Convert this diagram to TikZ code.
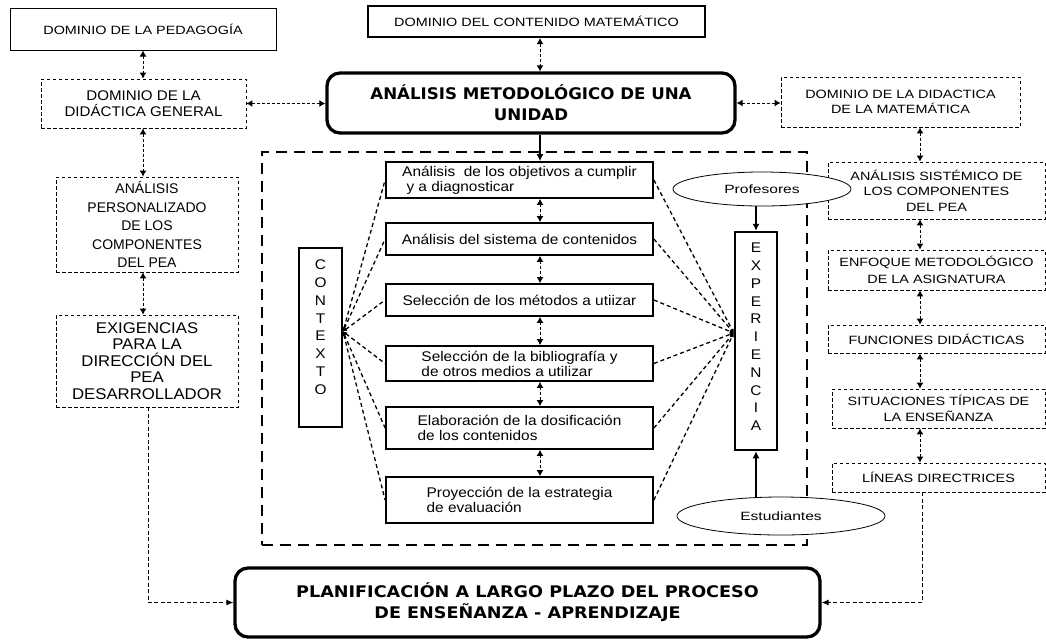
\documentclass[tikz,border=0pt]{standalone}
\usepackage{fontspec}
\usetikzlibrary{arrows.meta,calc,shapes.geometric}
\newfontfamily\fR[FakeStretch=1.2]{Liberation Sans}
\newfontfamily\fL[FakeStretch=1.08]{Liberation Sans}
\newfontfamily\fP[FakeStretch=1.0]{Liberation Sans}
\newfontfamily\fI[FakeStretch=1.1]{Liberation Sans}
\newfontfamily\fE[FakeStretch=1.3]{Liberation Sans}
\newfontfamily\fT[FakeStretch=1.04]{DejaVu Sans}
\newfontfamily\fQ[FakeStretch=1.1]{DejaVu Sans}
\begin{document}
\begin{tikzpicture}[x=1pt,y=-1pt]
\useasboundingbox[fill=white] (0,0) rectangle (1046,641);
\tikzset{
  dbox/.style={draw, line width=0.9pt, dash pattern=on 3.5pt off 2.5pt, inner sep=0pt, align=center},
  capsR/.style={font=\fR\fontsize{12}{15.5}\selectfont},
  capsL/.style={font=\fL\fontsize{14}{16.5}\selectfont},
  sbox/.style={draw, line width=1.8pt, inner sep=0pt, align=left, minimum width=267pt, font=\fI\fontsize{14}{15}\selectfont},
  bigbox/.style={draw, line width=3.3pt, rounded corners=13pt, inner sep=0pt, align=center},
  ell/.style={draw, ellipse, fill=white, line width=0.8pt, inner sep=0pt, font=\fE\fontsize{12}{14}\selectfont},
  vbox/.style={draw, line width=2pt, inner sep=0pt, font=\fI\fontsize{14}{17.8}\selectfont},
  lnk/.style={line width=1pt, dash pattern=on 3pt off 2pt, {Latex[length=6pt,width=7pt]}-{Latex[length=6pt,width=7pt]}},
  lnkone/.style={line width=1pt, dash pattern=on 4pt off 2.5pt, -{Latex[length=7pt,width=6pt]}},
  solidarr/.style={line width=1.2pt, -{Latex[length=7pt,width=7pt]}},
  fan/.style={line width=1.3pt, dash pattern=on 4pt off 3pt},
}
% dashed region
\node[draw, line width=2.5pt, dash pattern=on 11pt off 7pt, inner sep=0pt,
      minimum width=545pt, minimum height=393pt] (reg) at (534.5,348.5) {};

% column helpers
\coordinate (lc) at (143,0);
\coordinate (mc) at (540,0);
\coordinate (rc) at (920,0);

% top
\node[draw, line width=1pt, inner sep=0pt, minimum width=266pt, minimum height=42pt, capsR] (ped) at (143,29) {DOMINIO DE LA PEDAGOGÍA};
\node[draw, line width=2.2pt, inner sep=0pt, minimum width=337pt, minimum height=31pt, capsR] (cont) at (536.5,21.5) {DOMINIO DEL CONTENIDO MATEMÁTICO};
\node[bigbox, minimum width=408pt, minimum height=60pt, font=\fT\bfseries\fontsize{16}{21}\selectfont] (met) at (531,103) {ANÁLISIS METODOLÓGICO DE UNA\\UNIDAD};

% left column
\node[dbox, capsL, minimum width=205pt, minimum height=49pt] (gen) at (143.5,103.5) {DOMINIO DE LA\\DIDÁCTICA GENERAL};
\node[dbox, font=\fP\fontsize{14}{18.5}\selectfont, minimum width=182pt, minimum height=95pt] (pers) at (147,224.5) {ANÁLISIS\\PERSONALIZADO\\DE LOS\\COMPONENTES\\DEL PEA};
\node[dbox, font=\fL\fontsize{15.5}{16.5}\selectfont, minimum width=182pt, minimum height=92pt] (exig) at (147,361) {EXIGENCIAS\\PARA LA\\DIRECCIÓN DEL\\PEA\\DESARROLLADOR};

% right column
\node[dbox, capsR, minimum width=239pt, minimum height=50pt] (dmat) at (900.5,102) {DOMINIO DE LA DIDACTICA\\DE LA MATEMÁTICA};
\node[dbox, capsR, minimum width=217pt, minimum height=57pt] (sist) at (936.5,190.5) {ANÁLISIS SISTÉMICO DE\\LOS COMPONENTES\\DEL PEA};
\node[dbox, capsR, font=\fR\fontsize{12}{16.5}\selectfont, minimum width=217pt, minimum height=40pt] (enf) at (936.5,270) {ENFOQUE METODOLÓGICO\\DE LA ASIGNATURA};
\node[dbox, capsR, minimum width=217pt, minimum height=28pt] (func) at (936.5,339) {FUNCIONES DIDÁCTICAS};
\node[dbox, capsR, minimum width=213pt, minimum height=39pt] (sit) at (938.5,408.5) {SITUACIONES TÍPICAS DE\\LA ENSEÑANZA};
\node[dbox, capsR, minimum width=213pt, minimum height=29pt] (lin) at (938.5,477.5) {LÍNEAS DIRECTRICES};

% inner boxes
\node[sbox, minimum height=36pt] (b1) at (519.5,180) {Análisis\ \ de los objetivos a cumplir\\\ y a diagnosticar};
\node[sbox, minimum height=32pt] (b2) at (519.5,239) {Análisis del sistema de contenidos};
\node[sbox, minimum height=32pt] (b3) at (519.5,300) {Selección de los métodos a utiizar};
\node[sbox, minimum height=35pt] (b4) at (519.5,363.5) {Selección de la bibliografía y\\de otros medios a utilizar};
\node[sbox, minimum height=42pt] (b5) at (519.5,428) {Elaboración de la dosificación\\de los contenidos};
\node[sbox, minimum height=46pt] (b6) at (519.5,500) {Proyección de la estrategia\\de evaluación};

% vertical boxes
\node[vbox, minimum width=43pt, minimum height=179pt] (ctx) at (320.5,337.5)
  {\parbox[c][155pt][t]{20pt}{\centering C\\O\\N\\T\\E\\X\\T\\O}};
\node[vbox, line width=2.5pt, minimum width=42pt, minimum height=218pt] (exp) at (756,341)
  {\parbox[c][196pt][t]{20pt}{\centering E\\X\\P\\E\\R\\I\\E\\N\\C\\I\\A}};

% ellipses
\node[ell, minimum width=178pt, minimum height=34pt] (prof) at (762,189) {Profesores};
\node[ell, minimum width=208pt, minimum height=38pt] (est) at (781,516) {Estudiantes};

% bottom
\node[bigbox, minimum width=585pt, minimum height=69pt, font=\fQ\bfseries\fontsize{16}{21}\selectfont] (plan) at (527.5,602.5) {PLANIFICACIÓN A LARGO PLAZO DEL PROCESO\\DE ENSEÑANZA - APRENDIZAJE};

% connectors, left column
\draw[lnk] (ped.south -| lc) -- (gen.north -| lc);
\draw[lnk] (gen.south -| lc) -- (pers.north -| lc);
\draw[lnk] (pers.south -| lc) -- (exig.north -| lc);
\draw[lnk] (gen.east) -- (gen.east -| met.west);
\draw[lnkone] ([xshift=1pt]exig.south) |- (plan.west);

% connectors, middle
\draw[lnk] (cont.south -| mc) -- (met.north -| mc);
\draw[solidarr] (met.south -| mc) -- (b1.north -| mc);
\draw[lnk] (b1.south -| mc) -- (b2.north -| mc);
\draw[lnk] (b2.south -| mc) -- (b3.north -| mc);
\draw[lnk] (b3.south -| mc) -- (b4.north -| mc);
\draw[lnk] (b4.south -| mc) -- (b5.north -| mc);
\draw[lnk] (b5.south -| mc) -- (b6.north -| mc);

% connectors, right column
\draw[lnk] (met.east) -- (met.east -| dmat.west);
\draw[lnk] (dmat.south -| rc) -- (sist.north -| rc);
\draw[lnk] (sist.south -| rc) -- (enf.north -| rc);
\draw[lnk] (enf.south -| rc) -- (func.north -| rc);
\draw[lnk] (func.south -| rc) -- (sit.north -| rc);
\draw[lnk] (sit.south -| rc) -- (lin.north -| rc);
\draw[lnkone] ([xshift=-16.5pt]lin.south) |- (plan.east);

% context fan
\foreach \b in {b1,b2,b3,b4,b5,b6}
  \draw[fan, {Latex[length=4pt,width=4pt]}-] ([yshift=6pt]ctx.east) -- (\b.west);
% experience fan
\foreach \b in {b1,b2,b3,b4,b5,b6}
  \draw[fan, -{Latex[length=4pt,width=4pt]}] (\b.east) -- ([yshift=8pt]exp.west);

% actors
\draw[solidarr] (prof.south -| exp.north) -- (exp.north);
\draw[solidarr] (est.north -| exp.south) -- (exp.south);
\end{tikzpicture}
\end{document}
